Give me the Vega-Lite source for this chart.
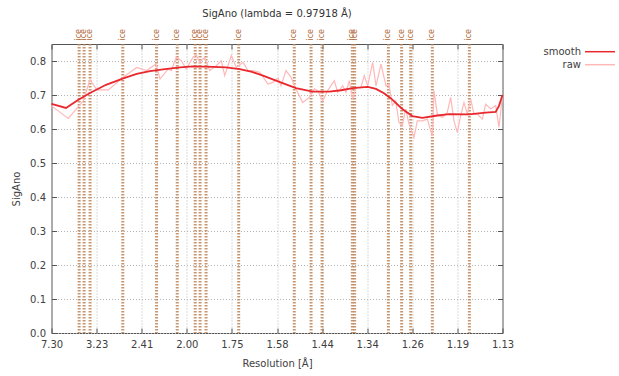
{
  "$schema": "https://vega.github.io/schema/vega-lite/v6.json",
  "width": 451,
  "height": 289,
  "autosize": {"type": "none"},
  "padding": {"left": 51.5, "top": 44, "right": 116.5, "bottom": 43},
  "background": "white",
  "title": {"text": "SigAno (lambda = 0.97918 Å)", "frame": "group", "anchor": "middle", "offset": 2, "baseline": "alphabetic", "fontSize": 10, "fontWeight": "normal", "font": "DejaVu Sans", "color": "#333333"},
  "config": {
    "view": {"stroke": "#555555", "strokeWidth": 1},
    "axis": {"labelFont": "DejaVu Sans", "labelFontSize": 10, "labelColor": "#404040", "titleFont": "DejaVu Sans", "titleFontSize": 10, "titleFontWeight": "normal", "titleColor": "#404040", "gridColor": "#b4b4b4", "gridDash": [1, 2], "gridWidth": 1, "domain": false, "tickColor": "#555555", "tickSize": -5, "tickWidth": 1, "labelFlush": false},
    "legend": {"orient": "none", "legendX": 542.5, "legendY": 1.7, "labelFont": "DejaVu Sans", "labelFontSize": 10, "labelColor": "#404040", "labelAlign": "right", "labelOffset": -25, "symbolType": "M-3,0H3", "symbolSize": 100, "rowPadding": 2, "padding": 0}
  },
  "datasets": {
    "curves": [
      {"series": "raw", "s": 0.01877, "v": 0.668},
      {"series": "raw", "s": 0.04738, "v": 0.631},
      {"series": "raw", "s": 0.07293, "v": 0.683},
      {"series": "raw", "s": 0.08434, "v": 0.745},
      {"series": "raw", "s": 0.09576, "v": 0.715},
      {"series": "raw", "s": 0.11551, "v": 0.715},
      {"series": "raw", "s": 0.14106, "v": 0.752},
      {"series": "raw", "s": 0.16389, "v": 0.781},
      {"series": "raw", "s": 0.18092, "v": 0.772},
      {"series": "raw", "s": 0.19676, "v": 0.791},
      {"series": "raw", "s": 0.20357, "v": 0.747},
      {"series": "raw", "s": 0.2172, "v": 0.776},
      {"series": "raw", "s": 0.22282, "v": 0.772},
      {"series": "raw", "s": 0.23134, "v": 0.811},
      {"series": "raw", "s": 0.23985, "v": 0.801},
      {"series": "raw", "s": 0.24837, "v": 0.776},
      {"series": "raw", "s": 0.25978, "v": 0.811},
      {"series": "raw", "s": 0.2654, "v": 0.818},
      {"series": "raw", "s": 0.2712, "v": 0.796},
      {"series": "raw", "s": 0.27971, "v": 0.811},
      {"series": "raw", "s": 0.28823, "v": 0.772},
      {"series": "raw", "s": 0.29947, "v": 0.786},
      {"series": "raw", "s": 0.30798, "v": 0.801},
      {"series": "raw", "s": 0.31378, "v": 0.757},
      {"series": "raw", "s": 0.32502, "v": 0.816},
      {"series": "raw", "s": 0.33353, "v": 0.781},
      {"series": "raw", "s": 0.34495, "v": 0.796},
      {"series": "raw", "s": 0.35346, "v": 0.772},
      {"series": "raw", "s": 0.36198, "v": 0.772},
      {"series": "raw", "s": 0.37339, "v": 0.767},
      {"series": "raw", "s": 0.38753, "v": 0.732},
      {"series": "raw", "s": 0.39604, "v": 0.737},
      {"series": "raw", "s": 0.40456, "v": 0.75},
      {"series": "raw", "s": 0.40967, "v": 0.727},
      {"series": "raw", "s": 0.41819, "v": 0.772},
      {"series": "raw", "s": 0.42671, "v": 0.752},
      {"series": "raw", "s": 0.43522, "v": 0.718},
      {"series": "raw", "s": 0.44664, "v": 0.678},
      {"series": "raw", "s": 0.45788, "v": 0.693},
      {"series": "raw", "s": 0.46639, "v": 0.718},
      {"series": "raw", "s": 0.47218, "v": 0.713},
      {"series": "raw", "s": 0.4807, "v": 0.683},
      {"series": "raw", "s": 0.48921, "v": 0.713},
      {"series": "raw", "s": 0.50046, "v": 0.742},
      {"series": "raw", "s": 0.50625, "v": 0.708},
      {"series": "raw", "s": 0.51476, "v": 0.727},
      {"series": "raw", "s": 0.52039, "v": 0.708},
      {"series": "raw", "s": 0.52601, "v": 0.742},
      {"series": "raw", "s": 0.5318, "v": 0.688},
      {"series": "raw", "s": 0.53742, "v": 0.722},
      {"series": "raw", "s": 0.54593, "v": 0.722},
      {"series": "raw", "s": 0.55156, "v": 0.757},
      {"series": "raw", "s": 0.55735, "v": 0.727},
      {"series": "raw", "s": 0.56587, "v": 0.796},
      {"series": "raw", "s": 0.57148, "v": 0.727},
      {"series": "raw", "s": 0.58, "v": 0.791},
      {"series": "raw", "s": 0.58852, "v": 0.727},
      {"series": "raw", "s": 0.59363, "v": 0.732},
      {"series": "raw", "s": 0.59925, "v": 0.669},
      {"series": "raw", "s": 0.60504, "v": 0.683},
      {"series": "raw", "s": 0.61066, "v": 0.619},
      {"series": "raw", "s": 0.61629, "v": 0.61},
      {"series": "raw", "s": 0.62208, "v": 0.659},
      {"series": "raw", "s": 0.6277, "v": 0.615},
      {"series": "raw", "s": 0.63621, "v": 0.575},
      {"series": "raw", "s": 0.64183, "v": 0.624},
      {"series": "raw", "s": 0.65035, "v": 0.624},
      {"series": "raw", "s": 0.65886, "v": 0.629},
      {"series": "raw", "s": 0.66738, "v": 0.58},
      {"series": "raw", "s": 0.67028, "v": 0.713},
      {"series": "raw", "s": 0.6759, "v": 0.644},
      {"series": "raw", "s": 0.68441, "v": 0.634},
      {"series": "raw", "s": 0.69293, "v": 0.649},
      {"series": "raw", "s": 0.69872, "v": 0.693},
      {"series": "raw", "s": 0.70434, "v": 0.624},
      {"series": "raw", "s": 0.70996, "v": 0.59},
      {"series": "raw", "s": 0.71575, "v": 0.639},
      {"series": "raw", "s": 0.72137, "v": 0.678},
      {"series": "raw", "s": 0.72699, "v": 0.644},
      {"series": "raw", "s": 0.73278, "v": 0.688},
      {"series": "raw", "s": 0.7384, "v": 0.644},
      {"series": "raw", "s": 0.74403, "v": 0.644},
      {"series": "raw", "s": 0.75254, "v": 0.629},
      {"series": "raw", "s": 0.75834, "v": 0.673},
      {"series": "raw", "s": 0.76685, "v": 0.659},
      {"series": "raw", "s": 0.77537, "v": 0.669},
      {"series": "raw", "s": 0.78099, "v": 0.605},
      {"series": "raw", "s": 0.78696, "v": 0.7},
      {"series": "smooth", "s": 0.01877, "v": 0.674},
      {"series": "smooth", "s": 0.04346, "v": 0.662},
      {"series": "smooth", "s": 0.0639, "v": 0.685},
      {"series": "smooth", "s": 0.08434, "v": 0.706},
      {"series": "smooth", "s": 0.1116, "v": 0.73},
      {"series": "smooth", "s": 0.14106, "v": 0.749},
      {"series": "smooth", "s": 0.16389, "v": 0.762},
      {"series": "smooth", "s": 0.18654, "v": 0.77},
      {"series": "smooth", "s": 0.21209, "v": 0.776},
      {"series": "smooth", "s": 0.23764, "v": 0.781},
      {"series": "smooth", "s": 0.25978, "v": 0.784},
      {"series": "smooth", "s": 0.29385, "v": 0.783},
      {"series": "smooth", "s": 0.31599, "v": 0.781},
      {"series": "smooth", "s": 0.33933, "v": 0.776},
      {"series": "smooth", "s": 0.36028, "v": 0.768},
      {"series": "smooth", "s": 0.37901, "v": 0.757},
      {"series": "smooth", "s": 0.40456, "v": 0.74},
      {"series": "smooth", "s": 0.41819, "v": 0.731},
      {"series": "smooth", "s": 0.43522, "v": 0.72},
      {"series": "smooth", "s": 0.46367, "v": 0.71},
      {"series": "smooth", "s": 0.49194, "v": 0.71},
      {"series": "smooth", "s": 0.51187, "v": 0.714},
      {"series": "smooth", "s": 0.5318, "v": 0.72},
      {"series": "smooth", "s": 0.55735, "v": 0.724},
      {"series": "smooth", "s": 0.57148, "v": 0.718},
      {"series": "smooth", "s": 0.58511, "v": 0.705},
      {"series": "smooth", "s": 0.59704, "v": 0.69},
      {"series": "smooth", "s": 0.61629, "v": 0.659},
      {"series": "smooth", "s": 0.63332, "v": 0.638},
      {"series": "smooth", "s": 0.65035, "v": 0.633},
      {"series": "smooth", "s": 0.67317, "v": 0.639},
      {"series": "smooth", "s": 0.69583, "v": 0.644},
      {"series": "smooth", "s": 0.72989, "v": 0.643},
      {"series": "smooth", "s": 0.75834, "v": 0.648},
      {"series": "smooth", "s": 0.77537, "v": 0.65},
      {"series": "smooth", "s": 0.78099, "v": 0.668},
      {"series": "smooth", "s": 0.78696, "v": 0.7}
    ],
    "ice": [
      {"s": 0.065847}, {"s": 0.074286}, {"s": 0.084455}, {"s": 0.14017}, {"s": 0.1977},
      {"s": 0.232929}, {"s": 0.263524}, {"s": 0.271831}, {"s": 0.282036}, {"s": 0.337628},
      {"s": 0.432262}, {"s": 0.46089}, {"s": 0.479587}, {"s": 0.531237}, {"s": 0.535135},
      {"s": 0.592621}, {"s": 0.615148}, {"s": 0.6306}, {"s": 0.66748}, {"s": 0.730514}
    ]
  },
  "resolve": {"axis": {"x": "independent", "y": "independent"}},
  "layer": [
    {
      "data": {"name": "ice"},
      "mark": {"type": "rule", "color": "#b97c4e", "strokeWidth": 3, "strokeDash": [1.5, 1.5], "opacity": 0.8},
      "encoding": {
        "x": {"field": "s", "type": "quantitative", "scale": {"domain": [0.018765, 0.786965], "nice": false, "zero": false}, "axis": null}
      }
    },
    {
      "data": {"name": "curves"},
      "transform": [{"filter": "datum.series === 'raw'"}],
      "mark": {"type": "line", "strokeWidth": 1.2},
      "encoding": {
        "x": {"field": "s", "type": "quantitative", "scale": {"domain": [0.018765, 0.786965], "nice": false, "zero": false},
              "axis": {"orient": "bottom", "values": [0.018765, 0.095585, 0.172405, 0.249225, 0.326045, 0.402865, 0.479685, 0.556505, 0.633325, 0.710145, 0.786965], "labelExpr": "format(1/sqrt(datum.value), '.2f')", "title": "Resolution [Å]", "grid": true, "labelPadding": 11, "titlePadding": 9}},
        "y": {"field": "v", "type": "quantitative", "scale": {"domain": [0, 0.85], "nice": false},
              "axis": {"orient": "left", "values": [0, 0.1, 0.2, 0.3, 0.4, 0.5, 0.6, 0.7, 0.8], "format": ".1f", "title": "SigAno", "grid": true, "labelPadding": 11, "titlePadding": 8}},
        "color": {"field": "series", "type": "nominal", "scale": {"domain": ["smooth", "raw"], "range": ["#e8282d", "#ffb8b8"]}, "legend": {"title": null}}
      }
    },
    {
      "data": {"name": "curves"},
      "transform": [{"filter": "datum.series === 'smooth'"}],
      "mark": {"type": "line", "strokeWidth": 1.8},
      "encoding": {
        "x": {"field": "s", "type": "quantitative", "axis": {"orient": "top", "values": [0.018765, 0.095585, 0.172405, 0.249225, 0.326045, 0.402865, 0.479685, 0.556505, 0.633325, 0.710145, 0.786965], "labels": false, "title": null, "grid": false}},
        "y": {"field": "v", "type": "quantitative", "axis": {"orient": "right", "values": [0, 0.1, 0.2, 0.3, 0.4, 0.5, 0.6, 0.7, 0.8], "labels": false, "title": null, "grid": false}},
        "color": {"field": "series", "type": "nominal", "legend": {"title": null}}
      }
    },
    {
      "data": {"name": "ice"},
      "mark": {"type": "text", "text": "ice", "angle": 270, "align": "left", "baseline": "middle", "dx": 3.5, "fontSize": 8, "font": "DejaVu Sans", "color": "#b06a36"},
      "encoding": {
        "x": {"field": "s", "type": "quantitative", "axis": null},
        "y": {"datum": 0.85, "type": "quantitative", "axis": null}
      }
    }
  ]
}
